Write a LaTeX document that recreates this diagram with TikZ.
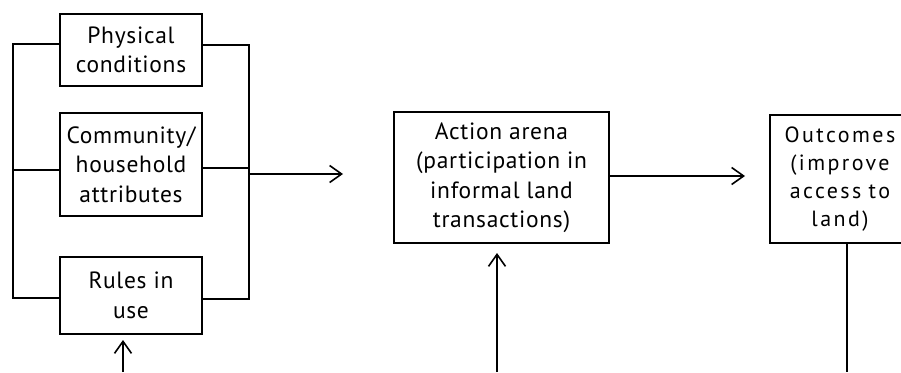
\documentclass[tikz,border=0pt]{standalone}
\usepackage{fontspec}
\setmainfont{PT Sans}[LetterSpace=3]
\newfontfamily\widesans{PT Sans}[LetterSpace=11]
\usetikzlibrary{arrows.meta}
\begin{document}
\begin{tikzpicture}[x=1pt,y=-1pt,
  box/.style={draw,line width=2pt,inner sep=0pt,align=center,
    font=\fontsize{23.5}{29.5}\selectfont},
  conn/.style={line width=1.6pt},
  arr/.style={conn,-{Straight Barb[length=12pt,width=17pt,line width=1.6pt]}}]
\useasboundingbox (0,0) rectangle (901,372);
\clip (0,0) rectangle (901,372);
\node[box,minimum width=142pt,minimum height=72pt] (phys) at (131,50) {Physical\\conditions};
\node[box,minimum width=142pt,minimum height=103pt] (comm) at (131,164.5) {Community/\\household\\attributes};
\node[box,minimum width=142pt,minimum height=77pt] (rules) at (131,295.5) {Rules in\\use};
\node[box,minimum width=215pt,minimum height=131pt] (action) at (501.5,177.5) {Action arena\\(participation in\\informal land\\transactions)};
\node[box,minimum width=154pt,minimum height=128pt,text width=140pt,
  font=\widesans\fontsize{22}{28}\selectfont] (out) at (847,179)
  {\hspace*{-14pt}Outcomes\\\hspace*{-14pt}(improve\\\hspace*{-14pt}access to\\\hspace*{-14pt}land)};
\coordinate (lt) at (13,44);
\coordinate (lm) at (13,170);
\coordinate (lbt) at (13,298);
\coordinate (rt) at (249,45);
\coordinate (rm) at (249,168);
\coordinate (rbt) at (249,299);
\coordinate (jn) at (249,174);
\coordinate (tgt) at (343,174);
\coordinate (a1) at (609,176);
\coordinate (a2) at (745,176);
\coordinate (b1) at (123,372);
\coordinate (t1) at (123,340);
\coordinate (b2) at (497,372);
\coordinate (t2) at (497,253);
\coordinate (b3) at (847,372);
\draw[conn] ([yshift=6pt]phys.west) -- (lt) -- (lbt) -- ([yshift=-2.5pt]rules.west);
\draw[conn] ([yshift=-5.5pt]comm.west) -- (lm);
\draw[conn] ([yshift=5pt]phys.east) -- (rt) -- (rbt) -- ([yshift=-3.5pt]rules.east);
\draw[conn] ([yshift=-3.5pt]comm.east) -- (rm);
\draw[arr] (jn) -- (tgt);
\draw[arr] (a1) -- (a2);
\draw[arr] (b1) -- (t1);
\draw[arr] (b2) -- (t2);
\draw[conn] (out.south) -- (b3);
\end{tikzpicture}
\end{document}
